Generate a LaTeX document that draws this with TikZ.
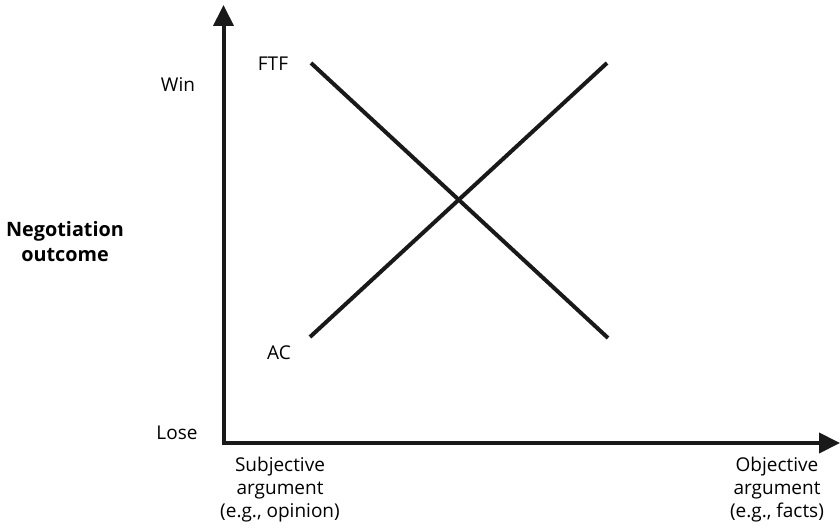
\documentclass[tikz,border=0pt]{standalone}
\usepackage{fontspec}
\setmainfont{Open Sans}
\usetikzlibrary{arrows.meta}
\begin{document}
\begin{tikzpicture}[x=1pt,y=-1pt,
  axis/.style={line width=4pt,-{Triangle[length=21pt,width=20pt]}},
  curve/.style={line width=4pt,color=black!90},
  lbl/.style={inner sep=0pt,font=\fontsize{19}{23}\selectfont},
  blbl/.style={inner sep=0pt,align=center,font=\fontsize{19.8}{25}\selectfont\bfseries},
  clbl/.style={inner sep=0pt,align=center,font=\fontsize{19}{23}\selectfont}]
\useasboundingbox (0,0) rectangle (840,532);
\coordinate (o) at (223.5,443);
\coordinate (ytip) at (223.5,5);
\coordinate (xtip) at (840,443);
\draw[axis,color=black!90] (223.5,445) -- (ytip);
\draw[axis,color=black!90] (221.5,443) -- (xtip);
\coordinate (f1) at (311,63);
\coordinate (f2) at (608,338);
\coordinate (a1) at (310,337);
\coordinate (a2) at (607,63);
\draw[curve] (f1) -- (f2);
\draw[curve] (a1) -- (a2);
\node[lbl] (win) at (178,85) {Win};
\node[lbl] (lose) at (177,433) {Lose};
\node[lbl] (ftf) at (273,64) {FTF};
\node[lbl] (ac) at (279,353) {AC};
\node[blbl] (neg) at (65,242) {Negotiation\\outcome};
\node[clbl] (subj) at (280,490) {Subjective\\argument\\(e.g., opinion)};
\node[clbl] (obj) at (777,490) {Objective\\argument\\(e.g., facts)};
\end{tikzpicture}
\end{document}
